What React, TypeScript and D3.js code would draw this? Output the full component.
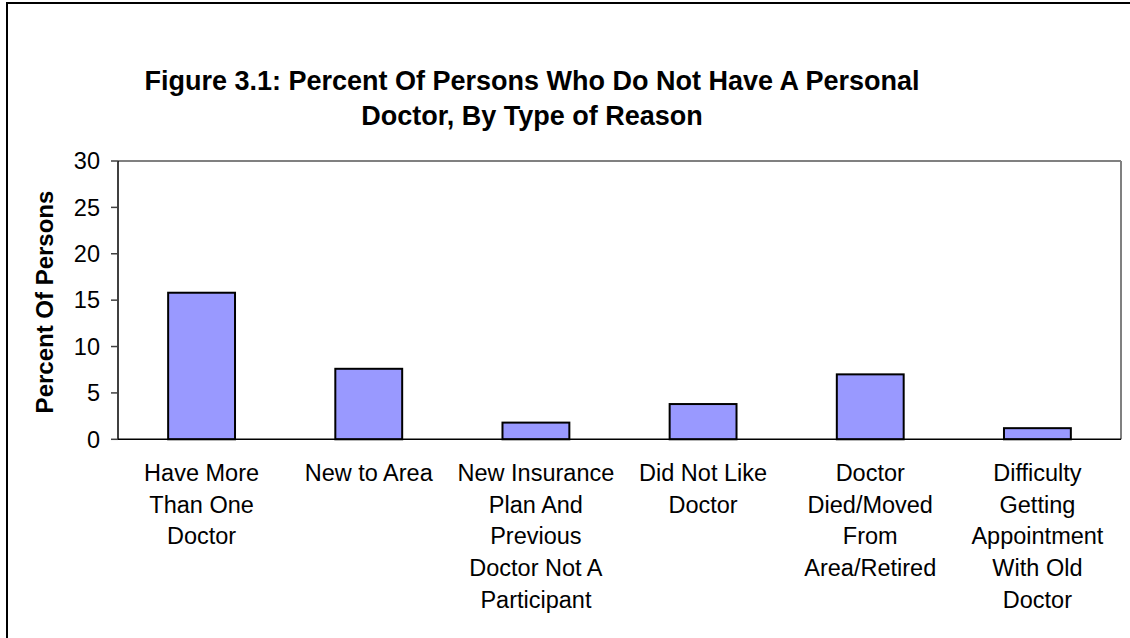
import React from "react";
import * as d3 from "d3";

const categories: string[][] = [
  ["Have More", "Than One", "Doctor"],
  ["New to Area"],
  ["New Insurance", "Plan And", "Previous", "Doctor Not A", "Participant"],
  ["Did Not Like", "Doctor"],
  ["Doctor", "Died/Moved", "From", "Area/Retired"],
  ["Difficulty", "Getting", "Appointment", "With Old", "Doctor"],
];
const values: number[] = [15.8, 7.6, 1.8, 3.8, 7.0, 1.2];
const yTicks: number[] = [0, 5, 10, 15, 20, 25, 30];
const titleLines: string[] = [
  "Figure 3.1: Percent Of Persons Who Do Not Have A Personal",
  "Doctor, By Type of Reason",
];
const yAxisLabel = "Percent Of Persons";

const W = 1130;
const H = 638;
const plot = { left: 118, right: 1121, top: 161, bottom: 439.3 };
const FONT = "'Liberation Sans', Arial, Helvetica, sans-serif";

export default function App() {
  const keys = categories.map((_, i) => String(i));
  const x = d3
    .scaleBand<string>()
    .domain(keys)
    .range([plot.left, plot.right])
    .paddingInner(0.6)
    .paddingOuter(0.3);
  const y = d3.scaleLinear().domain([0, 30]).range([plot.bottom, plot.top]);

  return (
    <div style={{ position: "fixed", left: 0, top: 0, width: W, height: H, background: "#fff" }}>
      <svg width={W} height={H} style={{ display: "block" }} fontFamily={FONT}>
        <rect x={0} y={0} width={W} height={H} fill="#fff" />
        {/* chart frame */}
        <rect x={7} y={3} width={W + 10} height={H + 10} fill="none" stroke="#000" strokeWidth={2} />

        {/* title */}
        {titleLines.map((t, i) => (
          <text
            key={i}
            x={532}
            y={90 + i * 35}
            textAnchor="middle"
            fontSize={27}
            fontWeight="bold"
            fill="#000"
          >
            {t}
          </text>
        ))}

        {/* plot area border */}
        <line x1={plot.left} x2={plot.right} y1={plot.top} y2={plot.top} stroke="#808080" strokeWidth={2} />
        <line x1={plot.right} x2={plot.right} y1={plot.top} y2={plot.bottom} stroke="#808080" strokeWidth={2} />

        {/* bars */}
        {values.map((v, i) => (
          <rect
            key={i}
            x={x(String(i))}
            y={y(v)}
            width={x.bandwidth()}
            height={y(0) - y(v)}
            fill="#9999FF"
            stroke="#000"
            strokeWidth={2}
          />
        ))}

        {/* y axis */}
        <line x1={plot.left} x2={plot.left} y1={plot.top} y2={plot.bottom} stroke="#000" strokeWidth={1.5} />
        {yTicks.map((t) => (
          <g key={t}>
            <line x1={plot.left - 7} x2={plot.left} y1={y(t)} y2={y(t)} stroke="#404040" strokeWidth={1.5} />
            <text x={100} y={y(t)} dy="0.35em" textAnchor="end" fontSize={23.5} fill="#000">
              {t}
            </text>
          </g>
        ))}

        {/* x axis */}
        <line x1={plot.left} x2={plot.right} y1={plot.bottom} y2={plot.bottom} stroke="#000" strokeWidth={1.5} />
        {categories.map((lines, i) => {
          const cx = (x(String(i)) as number) + x.bandwidth() / 2;
          return (
            <text key={i} textAnchor="middle" fontSize={23.5} fill="#000">
              {lines.map((l, j) => (
                <tspan key={j} x={cx} y={481 + j * 31.7}>
                  {l}
                </tspan>
              ))}
            </text>
          );
        })}

        {/* y axis label */}
        <text
          transform={`translate(45,302) rotate(-90)`}
          dy="0.35em"
          textAnchor="middle"
          fontSize={24}
          fontWeight="bold"
          fill="#000"
        >
          {yAxisLabel}
        </text>
      </svg>
    </div>
  );
}
